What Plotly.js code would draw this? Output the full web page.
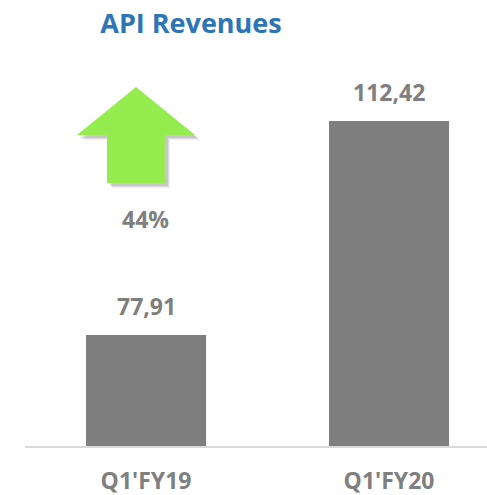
<!DOCTYPE html>
<html>
<head>
<meta charset="utf-8">
<script src="https://cdn.plot.ly/plotly-3.0.1.min.js"></script>
<style>html,body{margin:0;padding:0;background:#fff;}#chart{width:487px;height:495px;}</style>
</head>
<body>
<div id="chart"></div>
<script>
// Data
var categories = ["Q1'FY19", "Q1'FY20"];
var revenues = [77.91, 112.42];
var valueLabels = ["77,91", "112,42"];
var growthLabel = "44%";
var chartTitle = "API Revenues";

var W = 487, H = 495;
var mL = 25, mR = 0, mT = 0, mB = 49;
var pw = W - mL - mR, ph = H - mT - mB;
function px(x) { return (x - mL) / pw; }
function py(y) { return (H - mB - y) / ph; }

function arrowPath(dx, dy) {
  var pts = [[136,87],[195,135],[165,135],[165,183],[107,183],[107,135],[77,135]];
  return 'M ' + pts.map(function(p){ return px(p[0]+dx).toFixed(4) + ',' + py(p[1]+dy).toFixed(4); }).join(' L ') + ' Z';
}

var FAM = '"Open Sans", Lato, sans-serif';
var font = {family: FAM, weight: 'bold', color: '#7f7f7f', size: 23};

var shapes = [];
[[5,5,0.06],[4,4,0.08],[3,3,0.1]].forEach(function(s){
  shapes.push({type:'path', xref:'paper', yref:'paper', path: arrowPath(s[0], s[1]), fillcolor:'rgba(0,0,0,'+s[2]+')', line:{width:0}, layer:'below'});
});
shapes.push({type:'path', xref:'paper', yref:'paper', path: arrowPath(0,0), fillcolor:'#95ec4f', line:{width:0}});

var barW = 0.494;
categories.forEach(function(c, i){
  [[5,0.06],[3.5,0.08],[2,0.1]].forEach(function(s){
    shapes.push({type:'rect', xref:'x', yref:'y', x0: i - barW/2, x1: i + barW/2, y0: 60, y1: revenues[i],
      xshift: s[0], yshift: -s[0]*0.5, fillcolor:'rgba(0,0,0,'+s[1]+')', line:{width:0}, layer:'below'});
  });
});

var annotations = categories.map(function(c, i){
  return {x: c, y: revenues[i], xref:'x', yref:'y', text: valueLabels[i], showarrow:false,
    yanchor:'bottom', yshift: 11, font: font};
});
annotations.push({x: px(145), y: py(219), xref:'paper', yref:'paper', text: growthLabel, showarrow:false,
  xanchor:'center', yanchor:'middle', font: font});

var trace = {
  type: 'bar', x: categories, y: revenues, width: barW,
  marker: {color: '#7f7f7f'}, hoverinfo: 'none'
};

var layout = {
  width: W, height: H,
  margin: {l: mL, r: mR, t: mT, b: mB, pad: 0},
  paper_bgcolor: '#fff', plot_bgcolor: '#fff',
  showlegend: false,
  title: {text: chartTitle, x: 191/W, xanchor:'center', y: 1 - 24/H, yanchor:'middle',
    xref:'container', yref:'container',
    font: {family: FAM, weight: 'bold', color: '#2e75b6', size: 27}},
  xaxis: {type:'category', range: [-0.498, -0.498 + pw/243], showline: true, linecolor: '#d9d9d9', linewidth: 2,
    ticks: '', showgrid: false, zeroline: false, tickfont: {family: FAM, weight: 'bold', color:'#7f7f7f', size: 23},
    ticklabelstandoff: 13, fixedrange: true},
  yaxis: {range: [60, 60 + ph/6.2011], visible: false, showgrid: false, zeroline: false, fixedrange: true},
  shapes: shapes,
  annotations: annotations
};

Plotly.newPlot('chart', [trace], layout, {displayModeBar: false, staticPlot: true});
</script>
</body>
</html>
